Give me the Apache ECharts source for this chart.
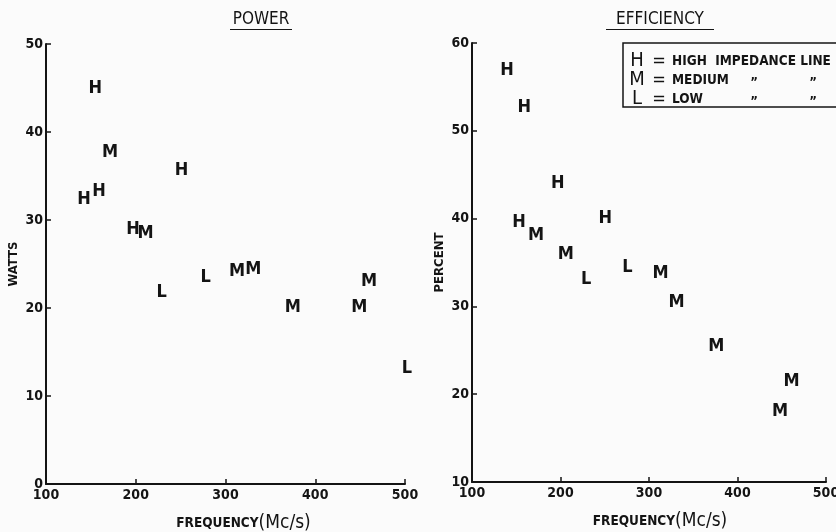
<!DOCTYPE html>
<html><head><meta charset="utf-8">
<script src="https://cdn.jsdelivr.net/npm/echarts@6/dist/echarts.min.js"></script>
<style>html,body{margin:0;padding:0;background:#fbfbfb}#c{width:836px;height:532px}</style>
</head><body><div id="c"></div><script>
// ---- data ----
const xTicks = [100, 200, 300, 400, 500];
const powerTicks = [0, 10, 20, 30, 40, 50];
const effTicks = [10, 20, 30, 40, 50, 60];

const powerH = [[155, 45], [251, 35.6], [159, 33.3], [142.5, 32.3], [197, 28.9]];
const powerM = [[171.5, 37.7], [211, 28.5], [313, 24.2], [331, 24.4], [375, 20.1], [449, 20.1], [460, 23]];
const powerL = [[229, 21.8], [278, 23.5], [502, 13.2]];

const effH = [[139.5, 56.9], [159, 52.7], [197, 44], [153, 39.6], [250.5, 40]];
const effM = [[172.5, 38.1], [206, 35.9], [313, 33.8], [331, 30.5], [376, 25.4], [461, 21.5], [448, 18]];
const effL = [[229, 33.1], [275.5, 34.4]];

const legendRows = [
  ['H', 'HIGH  IMPEDANCE LINE', '', ''],
  ['M', 'MEDIUM', '\u201D', '\u201D'],
  ['L', 'LOW', '\u201D', '\u201D']
];

// ---- styling ----
const FONT = '"DejaVu Sans Condensed", "Liberation Sans Narrow", "Roboto Condensed", "DejaVu Sans", sans-serif';
const INK = '#141414';

function ser(letter, data, idx) {
  return {
    type: 'scatter', name: letter, xAxisIndex: idx, yAxisIndex: idx, data: data,
    symbolSize: 1, itemStyle: { color: 'rgba(0,0,0,0)', opacity: 1 }, clip: false, silent: true,
    label: { show: true, position: 'inside', formatter: letter, fontSize: 18, color: INK, fontFamily: FONT, fontWeight: 'bold' }
  };
}

function xAx(idx) {
  return {
    gridIndex: idx, type: 'value', min: xTicks[0], max: xTicks[xTicks.length - 1], interval: xTicks[1] - xTicks[0],
    axisLine: { lineStyle: { color: INK, width: 2 } },
    axisTick: { inside: true, length: 5, lineStyle: { color: INK, width: 1.5 } },
    splitLine: { show: false },
    axisLabel: { color: INK, fontSize: 14, fontFamily: FONT, fontWeight: 'bold', margin: 4 },
    name: '{a|FREQUENCY}{b|(Mc/s)}', nameLocation: 'middle', nameGap: 30,
    nameTextStyle: { color: INK, padding: [0, 0, 0, idx === 0 ? 36 : 22],
      rich: { a: { fontSize: 13.5, fontWeight: 'bold', fontFamily: FONT, color: INK }, b: { fontSize: 19, fontFamily: FONT, color: INK } } }
  };
}
function yAx(idx, ticks, name) {
  return {
    gridIndex: idx, type: 'value', min: ticks[0], max: ticks[ticks.length - 1], interval: ticks[1] - ticks[0],
    axisLine: { show: true, lineStyle: { color: INK, width: 2 } },
    axisTick: { show: true, inside: true, length: 5, lineStyle: { color: INK, width: 1.5 } },
    splitLine: { show: false },
    axisLabel: { color: INK, fontSize: 14, fontFamily: FONT, fontWeight: 'bold', margin: 3 },
    name: name, nameLocation: 'middle', nameRotate: 90, nameGap: 26,
    nameTextStyle: { color: INK, fontSize: 13, fontWeight: 'bold', fontFamily: FONT }
  };
}

const graphics = [];
function title(text, cx, halfW) {
  graphics.push({ type: 'text', x: cx, y: 20, style: { text: text, fill: INK, fontSize: 17, fontFamily: FONT, align: 'center', verticalAlign: 'middle', textAlign: 'center', textVerticalAlign: 'middle' } });
  graphics.push({ type: 'line', shape: { x1: cx - halfW, y1: 29.5, x2: cx + halfW, y2: 29.5 }, style: { stroke: INK, lineWidth: 1.2 } });
}
title('POWER', 261, 31);
title('EFFICIENCY', 660, 54);

graphics.push({ type: 'rect', shape: { x: 623, y: 43, width: 240, height: 64 }, style: { fill: 'none', stroke: INK, lineWidth: 1.5 } });
legendRows.forEach(function (r, i) {
  const y = 61 + i * 19;
  graphics.push({ type: 'text', x: 637, y: y, style: { text: r[0], fill: INK, fontSize: 20, fontFamily: FONT, align: 'center', verticalAlign: 'middle', textAlign: 'center', textVerticalAlign: 'middle' } });
  graphics.push({ type: 'text', x: 659, y: y, style: { text: '=', fill: INK, fontSize: 18, fontFamily: FONT, align: 'center', verticalAlign: 'middle', textAlign: 'center', textVerticalAlign: 'middle' } });
  graphics.push({ type: 'text', x: 672, y: y, style: { text: r[1], fill: INK, fontSize: 13.5, fontWeight: 'bold', fontFamily: FONT, align: 'left', verticalAlign: 'middle', textAlign: 'left', textVerticalAlign: 'middle' } });
  if (r[2]) {
    graphics.push({ type: 'text', x: 754, y: y + 3, style: { text: r[2], fill: INK, fontSize: 13, fontWeight: 'bold', fontFamily: FONT, align: 'center', verticalAlign: 'middle', textAlign: 'center', textVerticalAlign: 'middle' } });
    graphics.push({ type: 'text', x: 813, y: y + 3, style: { text: r[3], fill: INK, fontSize: 13, fontWeight: 'bold', fontFamily: FONT, align: 'center', verticalAlign: 'middle', textAlign: 'center', textVerticalAlign: 'middle' } });
  }
});

const chart = echarts.init(document.getElementById('c'), null, { renderer: 'canvas' });
chart.setOption({
  backgroundColor: '#fbfbfb',
  animation: false,
  grid: [
    { left: 46, top: 44, width: 359, height: 440, outerBoundsMode: 'none' },
    { left: 472, top: 43, width: 354, height: 439, outerBoundsMode: 'none' }
  ],
  xAxis: [xAx(0), xAx(1)],
  yAxis: [yAx(0, powerTicks, 'WATTS'), yAx(1, effTicks, 'PERCENT')],
  series: [
    ser('H', powerH, 0), ser('M', powerM, 0), ser('L', powerL, 0),
    ser('H', effH, 1), ser('M', effM, 1), ser('L', effL, 1)
  ],
  graphic: graphics
});
</script></body></html>
